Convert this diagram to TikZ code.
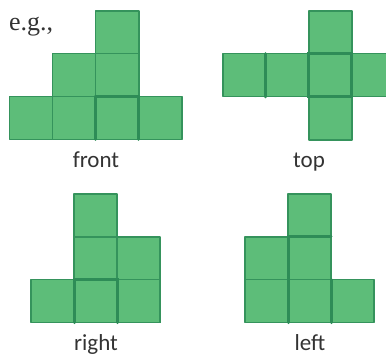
\documentclass[tikz,border=0pt]{standalone}
\usepackage{fontspec}
\setmainfont{Carlito}
\newfontfamily\egfont{Liberation Serif}
\definecolor{cellfill}{HTML}{5DBD79}
\definecolor{cellline}{HTML}{35935C}
\definecolor{cellthick}{HTML}{2E8C57}
\definecolor{labelink}{HTML}{333333}
\tikzset{
  x=1pt,y=-1pt,
  cellbox/.style={fill=cellfill,draw=cellline,line width=1.6pt,line join=round},
  thickedge/.style={draw=cellthick,line width=3pt,line cap=round},
  viewlabel/.style={text=labelink,font=\fontsize{23}{23}\selectfont,inner sep=0pt,anchor=base}
}
\newcommand{\cellat}[3]{\draw[cellbox] (#1,#2) rectangle ++(43.2,#3);}
\begin{document}
\begin{tikzpicture}
\useasboundingbox (0,0) rectangle (386,357);
% front
\foreach \px/\py in {95.5/10.7,52.5/53.3,95.5/53.3,9.5/96.3,52.5/96.3,95.5/96.3,138.5/96.3}{\cellat{\px}{\py}{43}}
\draw[thickedge] (95.5,96.3) -- (138.7,96.3);
\draw[thickedge] (95.5,96.3) -- (95.5,139.3);
\draw[thickedge] (138.7,96.3) -- (138.7,139.3);
% top
\foreach \px/\py in {308.7/10.7,222.7/53.6,265.7/53.6,308.7/53.6,351.7/53.6,308.7/96.8}{\cellat{\px}{\py}{43}}
\draw[thickedge] (308.7,53.6) rectangle (351.9,96.8);
\draw[thickedge] (265.9,53.6) -- (265.9,96.8);
% right
\foreach \px/\py in {74/193.7,74/236.7,117/236.7,31/279.5,74/279.5,117/279.5}{\cellat{\px}{\py}{43}}
\draw[thickedge] (74,322.7) -- (74,279.5) -- (117,279.5) -- (117,322.7);
\draw[cellline,line width=2.2pt] (160.2,236.7) -- (160.2,322.7);
% left
\foreach \px/\py in {288/193.7,245/236.7,288/236.7,245/279.5,288/279.5,331/279.5}{\cellat{\px}{\py}{43}}
\draw[thickedge] (288,322.7) -- (288,236.7) -- (331,236.7);
\draw[thickedge] (331.2,279.5) -- (331.2,322.7);
% labels
\node[inner sep=0pt,anchor=base west,font=\fontsize{26}{26}\selectfont\egfont,text=labelink] (eg) at (9,30) {e.g.,};
\node[viewlabel] (front) at (96,167) {front};
\node[viewlabel] (top) at (309,167) {top};
\node[viewlabel] (right) at (96,350) {right};
\node[viewlabel] (left) at (310,350.5) {left};
\end{tikzpicture}
\end{document}
